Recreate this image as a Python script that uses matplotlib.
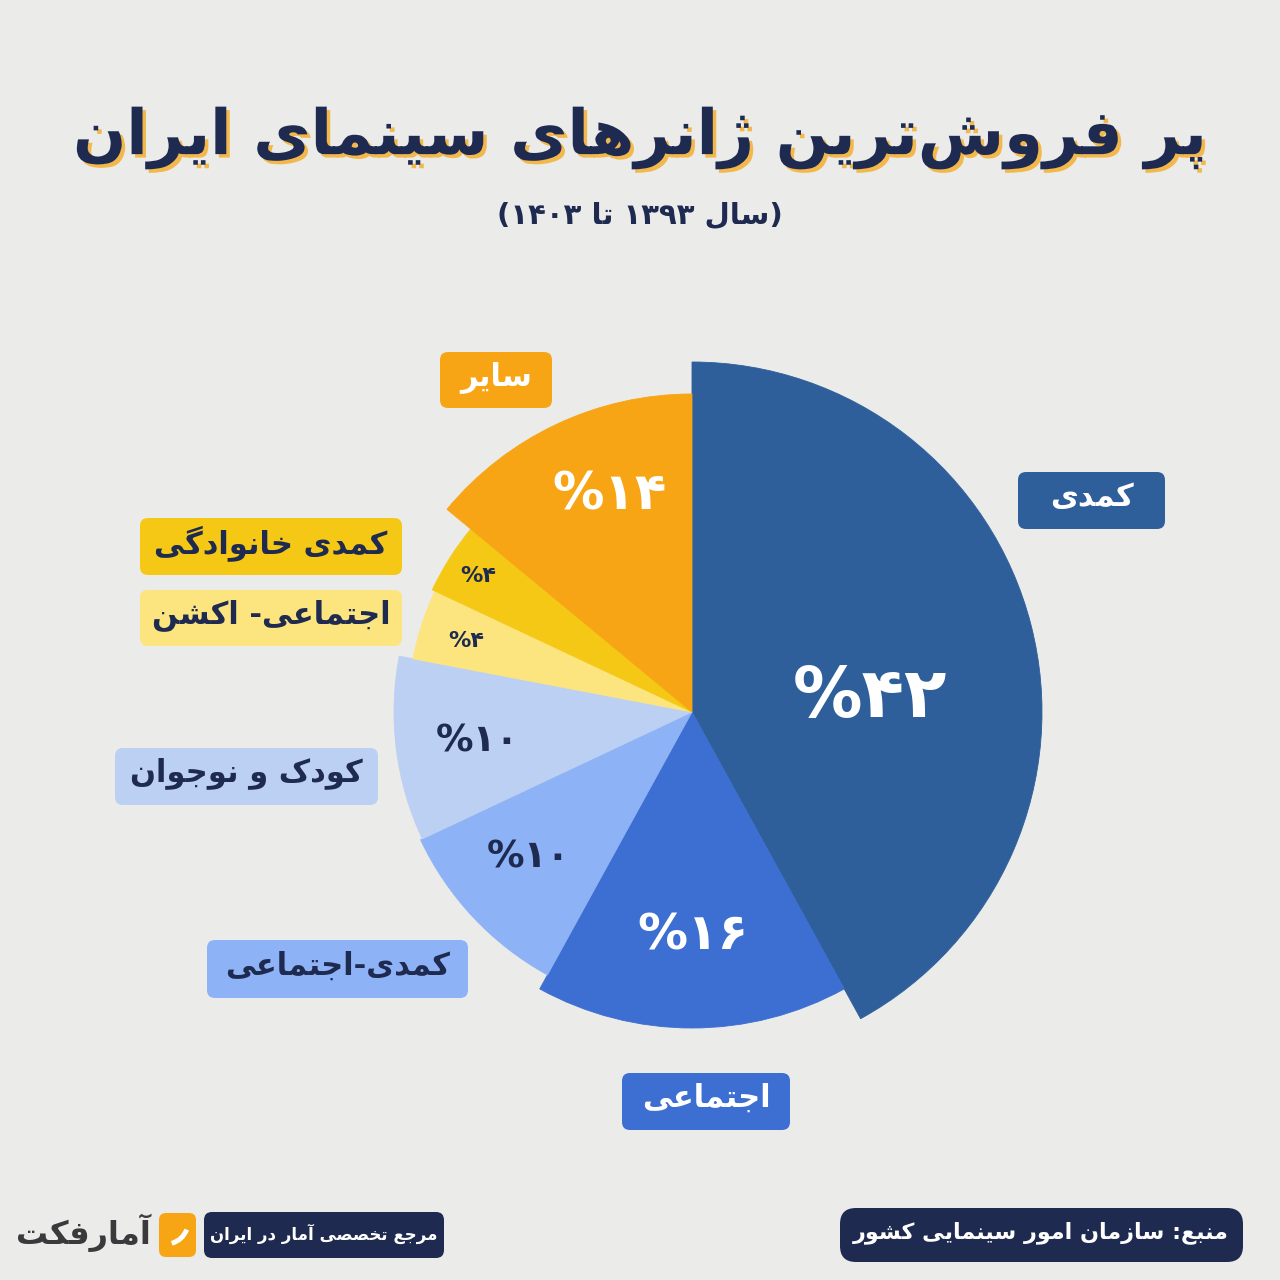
import matplotlib
matplotlib.use("Agg")
import matplotlib.pyplot as plt
import matplotlib.patheffects as pe
from matplotlib.patches import FancyBboxPatch, Arc

# data (slices clockwise from 12 o'clock)
GENRES = ["کمدی", "اجتماعی", "کمدی-اجتماعی", "کودک و نوجوان",
          "اجتماعی- اکشن", "کمدی خانوادگی", "سایر"]
SHARES = [42, 16, 10, 10, 4, 4, 14]
TITLE = "پر فروش\u200cترین ژانرهای سینمای ایران"
SUBTITLE = "(سال ۱۳۹۳ تا ۱۴۰۳)"
SOURCE = "منبع: سازمان امور سینمایی کشور"
TAGLINE = "مرجع تخصصی آمار در ایران"
BRAND = "آمارفکت"

# style
COLORS = ["#2E5F9B", "#3C6FD1", "#8DB2F5", "#BCD0F3", "#FCE57E", "#F5C816", "#F7A515"]
RADII = [350, 316, 300, 298, 284, 287, 318]
NAVY = "#1E2A4F"
PCT_COLOR = ["white", "white", NAVY, NAVY, NAVY, NAVY, "white"]
PCT_POS = [(870, 697), (693, 935), (528, 857), (477, 742), (466, 641), (478, 576), (610, 496)]
PCT_SIZE = [50, 36, 27, 27, 16, 16, 37]
BOX = [(1018, 472, 1165, 529), (622, 1073, 790, 1130), (207, 940, 468, 998),
       (115, 748, 378, 805), (140, 590, 402, 646), (140, 518, 402, 575),
       (440, 352, 552, 408)]
BOX_TXT = ["white", "white", NAVY, NAVY, NAVY, NAVY, "white"]
CENTER = (692, 712)
BG = "#EBEBEA"

# minimal Persian shaping: (isolated, final, initial, medial) or (isolated, final)
FORMS = {
    "ا": "\uFE8D\uFE8E", "آ": "\uFE81\uFE82", "د": "\uFEA9\uFEAA", "ر": "\uFEAD\uFEAE",
    "ز": "\uFEAF\uFEB0", "ژ": "\uFB8A\uFB8B", "و": "\uFEED\uFEEE",
    "ب": "\uFE8F\uFE90\uFE91\uFE92", "پ": "\uFB56\uFB57\uFB58\uFB59",
    "ت": "\uFE95\uFE96\uFE97\uFE98", "ج": "\uFE9D\uFE9E\uFE9F\uFEA0",
    "خ": "\uFEA5\uFEA6\uFEA7\uFEA8", "س": "\uFEB1\uFEB2\uFEB3\uFEB4",
    "ش": "\uFEB5\uFEB6\uFEB7\uFEB8", "ص": "\uFEB9\uFEBA\uFEBB\uFEBC",
    "ع": "\uFEC9\uFECA\uFECB\uFECC", "ف": "\uFED1\uFED2\uFED3\uFED4",
    "ک": "\uFB8E\uFB8F\uFB90\uFB91", "گ": "\uFB92\uFB93\uFB94\uFB95",
    "ل": "\uFEDD\uFEDE\uFEDF\uFEE0", "م": "\uFEE1\uFEE2\uFEE3\uFEE4",
    "ن": "\uFEE5\uFEE6\uFEE7\uFEE8", "ه": "\uFEE9\uFEEA\uFEEB\uFEEC",
    "ی": "\uFBFC\uFBFD\uFBFE\uFBFF",
}
DIGITS = set("0123456789۰۱۲۳۴۵۶۷۸۹")
MIRROR = {"(": ")", ")": "("}


def shape(s):
    out = []
    for i, c in enumerate(s):
        if c not in FORMS:
            if c != "\u200c":
                out.append(c)
            continue
        f = FORMS[c]
        prev = s[i - 1] if i > 0 else ""
        nxt = s[i + 1] if i + 1 < len(s) else ""
        jp = prev in FORMS and len(FORMS[prev]) == 4
        jn = len(f) == 4 and nxt in FORMS
        out.append(f[3] if jp and jn else f[1] if jp else f[2] if jn else f[0])
    return out


def fa(s):
    # logical RTL string -> visual left-to-right string
    chars = shape(s)[::-1]
    out, run = [], []
    for c in chars:
        if c in DIGITS:
            run.append(c)
        else:
            out.extend(run[::-1]); run = []
            out.append(MIRROR.get(c, c))
    out.extend(run[::-1])
    return "".join(out)


def fa_num(v):
    return str(v).translate(str.maketrans("0123456789", "۰۱۲۳۴۵۶۷۸۹"))


plt.rcParams["font.family"] = ["DejaVu Sans"]
fig = plt.figure(figsize=(12.8, 12.8), dpi=100, facecolor=BG)
ax = fig.add_axes([0, 0, 1, 1])
ax.set_facecolor(BG)

wedges, _ = ax.pie(SHARES, colors=COLORS, startangle=-90, counterclock=True,
                   center=CENTER, radius=300,
                   wedgeprops=dict(linewidth=0.6, antialiased=True))
for w, r, c in zip(wedges, RADII, COLORS):
    w.set_radius(r)
    w.set_edgecolor(c)

ax.set_xlim(0, 1280)
ax.set_ylim(1280, 0)
ax.set_aspect("equal")
ax.axis("off")

for v, (x, y), col, fs in zip(SHARES, PCT_POS, PCT_COLOR, PCT_SIZE):
    ax.text(x, y, "%" + fa_num(v), color=col, fontsize=fs, fontweight="bold",
            ha="center", va="center")


def box(x0, y0, x1, y1, fc, rad=8):
    ax.add_patch(FancyBboxPatch((x0 + rad, y0 + rad), x1 - x0 - 2 * rad, y1 - y0 - 2 * rad,
                                boxstyle=f"round,pad={rad}", fc=fc, ec="none"))


for g, (x0, y0, x1, y1), fc, tc in zip(GENRES, BOX, COLORS, BOX_TXT):
    box(x0, y0, x1, y1, fc)
    ax.text((x0 + x1) / 2, (y0 + y1) / 2 - 3, fa(g), color=tc, fontsize=22,
            fontweight="bold", ha="center", va="center")

# title with offset shadow
ax.text(640, 138, fa(TITLE), color=NAVY, fontsize=45, fontweight="bold",
        ha="center", va="center",
        path_effects=[pe.SimplePatchShadow(offset=(2.5, -2.5), shadow_rgbFace="#F2B84B",
                                           alpha=1.0), pe.Normal()])
ax.text(640, 216, fa(SUBTITLE), color=NAVY, fontsize=21, fontweight="bold",
        ha="center", va="center")

# footer
box(840, 1208, 1243, 1262, NAVY, rad=16)
ax.text(1041, 1233, fa(SOURCE), color="white", fontsize=16, fontweight="bold",
        ha="center", va="center")
box(204, 1212, 444, 1258, NAVY, rad=8)
ax.text(324, 1234, fa(TAGLINE), color="white", fontsize=12, fontweight="bold",
        ha="center", va="center")
box(159, 1213, 196, 1257, "#F7A515", rad=7)
ax.add_patch(Arc((166, 1222), 44, 44, theta1=20, theta2=75, color="white", lw=3.5))
ax.text(83, 1233, fa(BRAND), color="#3A3A3C", fontsize=23, fontweight="bold",
        ha="center", va="center")

fig.savefig("out.png", dpi=100, facecolor=BG)
